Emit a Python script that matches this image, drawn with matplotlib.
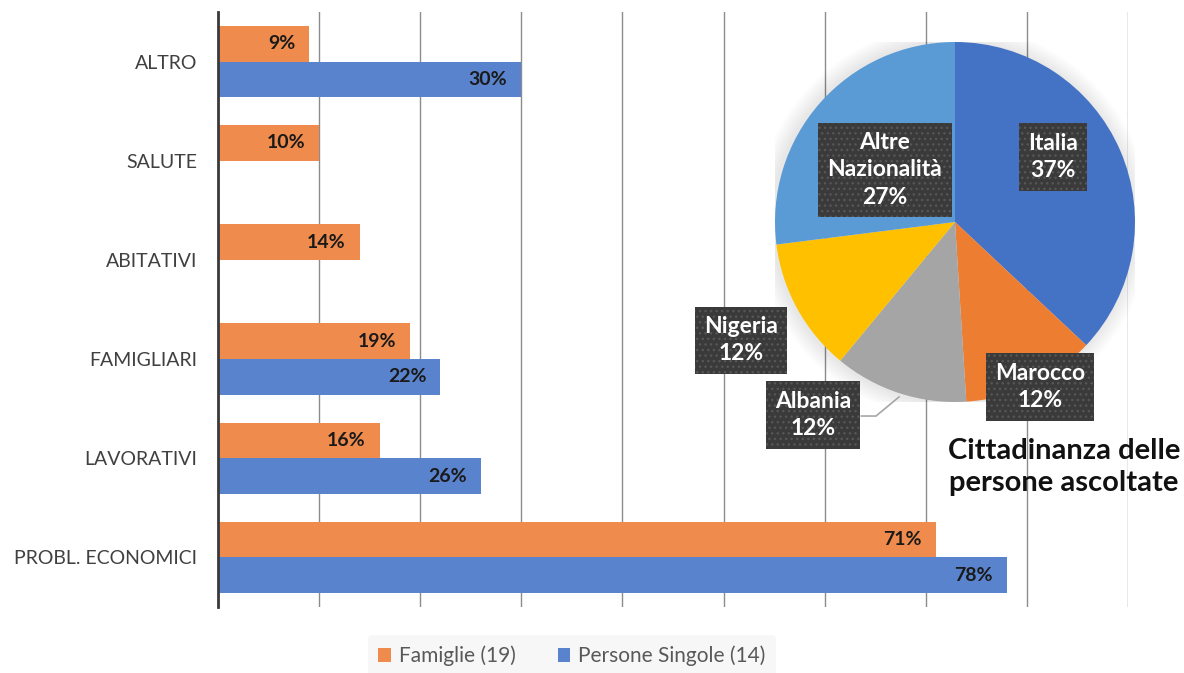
import matplotlib
matplotlib.use("Agg")
import matplotlib.pyplot as plt
import numpy as np

plt.rcParams['font.family'] = ['Lato', 'DejaVu Sans']

# ---- data ----
categories = ["ALTRO", "SALUTE", "ABITATIVI", "FAMIGLIARI", "LAVORATIVI", "PROBL. ECONOMICI"]
famiglie = [9, 10, 14, 19, 16, 71]
persone_singole = [30, None, None, 22, 26, 78]
series_names = ["Famiglie (19)", "Persone Singole (14)"]

pie_labels = ["Italia", "Marocco", "Albania", "Nigeria", "Altre\nNazionalità"]
pie_values = [37, 12, 12, 12, 27]
pie_title = "Cittadinanza delle\npersone ascoltate"

# ---- style ----
c_fam = "#EF8B4C"
c_pers = "#5A83CD"
pie_colors = ["#4472C4", "#ED7D31", "#A5A5A5", "#FFC000", "#5B9BD5"]

W, H = 1184, 673
fig = plt.figure(figsize=(W / 100, H / 100), dpi=100)

# ---- bar chart ----
ax = fig.add_axes([218 / W, 1 - 607 / H, (1128 - 218) / W, (607 - 12) / H])
n = len(categories)
ypos = np.arange(n)[::-1]
bh = 0.36
fam_vals = np.array(famiglie, dtype=float)
pers_vals = np.array([np.nan if v is None else v for v in persone_singole], dtype=float)
b1 = ax.barh(ypos + bh / 2, fam_vals, height=bh, color=c_fam, label=series_names[0], zorder=2)
b2 = ax.barh(ypos - bh / 2, np.nan_to_num(pers_vals), height=bh, color=c_pers, label=series_names[1], zorder=2)

for bars, vals in ((b1, fam_vals), (b2, pers_vals)):
    for rect, v in zip(bars, vals):
        if np.isnan(v) or v == 0:
            continue
        ax.annotate(f"{int(v)}%", xy=(rect.get_width(), rect.get_y() + rect.get_height() / 2),
                    xytext=(-10, 0), textcoords="offset points", ha="right", va="center",
                    fontsize=14, fontweight="bold", color="#1a1a1a", zorder=3)

ax.set_xlim(0, 90)
ax.set_ylim(-0.5, n - 0.5)
ax.set_xticks(np.arange(0, 91, 10))
ax.set_xticklabels([])
ax.set_yticks(ypos)
ax.set_yticklabels(categories, fontsize=14, color="#404040")
ax.tick_params(axis="both", length=0, pad=15)
ax.xaxis.grid(True, color="#8c8c8c", linewidth=1, zorder=0)
ax.set_axisbelow(True)
for s in ("top", "right", "bottom"):
    ax.spines[s].set_visible(False)
ax.spines["left"].set_color("#3a3a3a")
ax.spines["left"].set_linewidth(2)
ax.spines["left"].set_zorder(4)

# legend
leg = fig.legend(handles=[b1, b2], labels=series_names, loc="center", bbox_to_anchor=(572 / W, 1 - 656 / H),
                 ncol=2, frameon=True, fontsize=15, handlelength=0.6, handleheight=0.6,
                 columnspacing=2.0, handletextpad=0.4, borderpad=0.5)
leg.get_frame().set_facecolor("#f6f6f6")
leg.get_frame().set_edgecolor("none")
for t in leg.get_texts():
    t.set_color("#595959")

# ---- pie ----
r_px = 180
cx, cy = 955, 222
pax = fig.add_axes([(cx - r_px) / W, 1 - (cy + r_px) / H, 2 * r_px / W, 2 * r_px / H])
# soft shadow
for k in range(8):
    pax.add_patch(plt.Circle((-0.01, 0.0), 1.0 + 0.012 * (k + 1), color="#000000", alpha=0.012,
                             lw=0, zorder=0))
wedges, _ = pax.pie(pie_values, colors=pie_colors, startangle=90, counterclock=False,
                    wedgeprops=dict(linewidth=0), radius=1.0)
for w in wedges:
    w.set_zorder(1)
pax.set_xlim(-1, 1)
pax.set_ylim(-1, 1)
pax.set_aspect("equal")
pax.axis("off")

label_pos = [(0.544, 0.361), (0.472, -0.917), (-0.789, -1.072), (-1.189, -0.656), (-0.389, 0.289)]
# leader line for Albania
pax.plot([-0.52, -0.439, -0.311], [-1.078, -1.078, -0.972], color="#a6a6a6", lw=1.2, zorder=2, clip_on=False)
for lab, v, (lx, ly) in zip(pie_labels, pie_values, label_pos):
    pax.text(lx, ly, f"{lab}\n{v}%", ha="center", va="center", fontsize=16.5, fontweight="bold",
             color="white", linespacing=1.4, zorder=5, clip_on=False,
             bbox=dict(boxstyle="square,pad=0.4", facecolor="#3a3a3a", edgecolor="#565656",
                       linewidth=0, hatch="..."))

fig.text(1064 / W, 1 - 467 / H, pie_title, ha="center", va="center", fontsize=21,
         fontweight="bold", color="#111111", linespacing=1.25)

fig.savefig("out.png", dpi=100)
